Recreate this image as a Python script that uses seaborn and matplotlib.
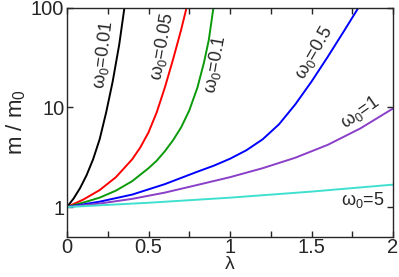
import numpy as np
import pandas as pd
import seaborn as sns
import matplotlib
matplotlib.use('Agg')
import matplotlib.pyplot as plt
from matplotlib.ticker import FixedLocator, NullLocator

# curves: lambda vs m/m0
lam_001 = [0, 0.04, 0.08, 0.12, 0.16, 0.2, 0.24, 0.28, 0.32, 0.352]
m_001 = [1, 1.216, 1.549, 2.089, 3.020, 4.786, 8.913, 18.2, 42.66, 100]

lam_005 = [0, 0.1, 0.2, 0.3, 0.4, 0.45, 0.5, 0.55, 0.6, 0.65, 0.7, 0.733]
m_005 = [1, 1.189, 1.479, 1.995, 3.020, 3.981, 5.623, 8.913, 15.85, 30.2, 60.26, 100]

lam_01 = [0, 0.1, 0.2, 0.3, 0.4, 0.5, 0.55, 0.6, 0.65, 0.7, 0.75, 0.8, 0.84, 0.87, 0.898]
m_01 = [1, 1.109, 1.242, 1.462, 1.820, 2.455, 2.917, 3.631, 4.677, 6.310, 9.333,
        15.85, 28.18, 47.86, 100]

lam_05 = [0, 0.2, 0.4, 0.6, 0.8, 0.9, 1.0, 1.1, 1.2, 1.3, 1.4, 1.5, 1.6, 1.7, 1.787]
m_05 = [1, 1.132, 1.334, 1.698, 2.265, 2.6, 3.055, 3.715, 4.786, 6.761, 10.72,
        18.2, 32.36, 58.88, 100]

lam_1 = [0, 0.2, 0.4, 0.6, 0.8, 1.0, 1.2, 1.4, 1.6, 1.8, 2.0]
m_1 = [1, 1.084, 1.208, 1.396, 1.667, 1.995, 2.455, 3.126, 4.217, 6.166, 9.77]

lam_5 = [0, 0.5, 1.0, 1.5, 2.0]
m_5 = [1, 1.104, 1.242, 1.429, 1.679]

curve_labels = [r'$\omega_0$=0.01', r'$\omega_0$=0.05', r'$\omega_0$=0.1',
                r'$\omega_0$=0.5', r'$\omega_0$=1', r'$\omega_0$=5']
curve_colors = ['black', '#ff0000', '#0a9a0a', '#0000ff', '#8a3fc8', '#40e0d0']

sns.set_style('ticks')
plt.rcParams['font.family'] = ['Liberation Sans', 'DejaVu Sans']
plt.rcParams['mathtext.fontset'] = 'custom'
plt.rcParams['mathtext.rm'] = 'Liberation Sans'
plt.rcParams['mathtext.it'] = 'Liberation Sans'

fig = plt.figure(figsize=(3.99, 2.77), dpi=100)
ax = fig.add_axes([0.168, 0.1444, 0.817, 0.827])

all_lam = [lam_001, lam_005, lam_01, lam_05, lam_1, lam_5]
all_m = [m_001, m_005, m_01, m_05, m_1, m_5]
for lam, m, c in zip(all_lam, all_m, curve_colors):
    df = pd.DataFrame({'lam': lam, 'm': m})
    sns.lineplot(data=df, x='lam', y='m', color=c, lw=1.4, ax=ax, sort=False)

ax.set_yscale('log')
ax.set_xlim(0, 2)
ax.set_ylim(0.5, 100)
ax.xaxis.set_major_locator(FixedLocator([0, 0.5, 1, 1.5, 2]))
ax.xaxis.set_minor_locator(FixedLocator([0.25, 0.75, 1.25, 1.75]))
ax.set_xticklabels(['0', '0.5', '1', '1.5', '2'])
ax.yaxis.set_major_locator(FixedLocator([1, 10, 100]))
ax.yaxis.set_minor_locator(NullLocator())
ax.set_yticklabels(['1', '10', '100'])
ax.tick_params(which='both', direction='in', top=True, right=True,
               length=4, width=1, labelsize=14.5, pad=2)
ax.tick_params(axis='x', pad=1)
for s in ax.spines.values():
    s.set_linewidth(1)

ax.set_xlabel('λ', fontsize=14, labelpad=-1)
ax.set_ylabel('m / m$_0$', fontsize=16, labelpad=2)

# curve labels (data coords)
label_pos = [(0.221, 34, 83), (0.583, 41, 80), (0.908, 27, 80),
             (1.515, 35.7, 60), (1.798, 9.0, 35), (1.816, 1.18, 0)]
for (x, y, r), t in zip(label_pos, curve_labels):
    ax.text(x, y, t, fontsize=13, rotation=r, ha='center', va='center',
            rotation_mode='anchor')

fig.savefig('out.png', dpi=100)
